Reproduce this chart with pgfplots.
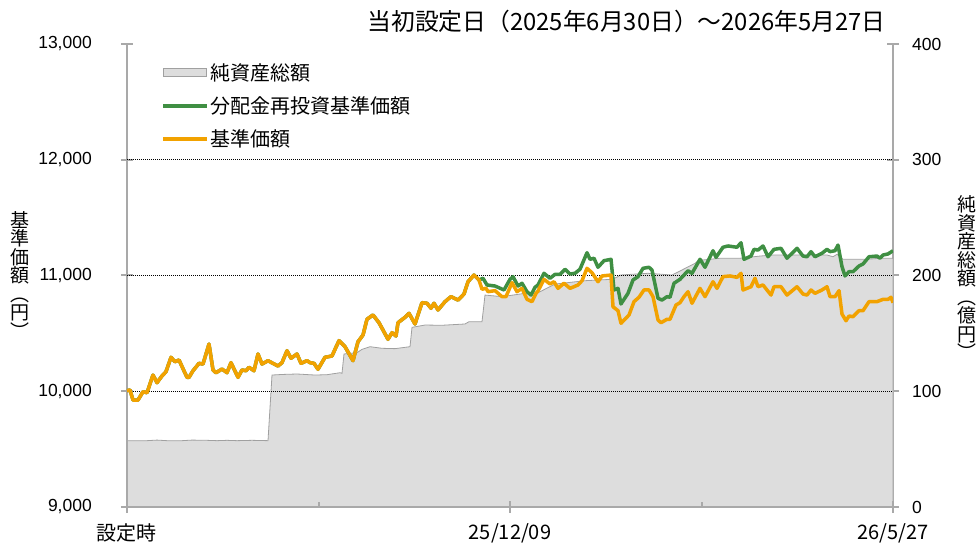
\documentclass[border=0pt]{standalone}
\usepackage{fontspec}
\setmainfont{Liberation Sans}
\newfontfamily\jp{Noto Sans CJK JP}
\usepackage{pgfplots}
\pgfplotsset{compat=1.18}
\definecolor{axgray}{HTML}{A9A9A9}
\definecolor{areafill}{HTML}{DDDDDD}
\definecolor{areaedge}{HTML}{A0A0A0}
\definecolor{orangeline}{HTML}{F2A200}
\definecolor{greenline}{HTML}{3F8F43}
\begin{document}
\begin{tikzpicture}
\path[use as bounding box] (-127pt,-38pt) rectangle (849pt,507pt);
\pgfplotsset{
  common/.style={
    scale only axis, width=766pt, height=463pt, at={(0pt,0pt)}, anchor=south west,
    xmin=0, xmax=766,
    axis line style={-, draw=axgray, line width=2.6pt},
    x axis line style={-}, y axis line style={-},
    tick style={draw=axgray, line width=2pt},
    major tick length=12pt, tick align=center,
    tick label style={font=\fontsize{17.5}{20}\selectfont},
  }
}
% ---- net assets (right axis)
\begin{axis}[common, ymin=0, ymax=400, axis x line=none, axis y line*=right,
  ytick={0,100,200,300,400},
  yticklabel style={anchor=west, inner sep=0pt, xshift=13pt},
  /pgf/number format/assume math mode=true]
\addplot[fill=areafill, draw=areaedge, line width=0.8pt] coordinates {
(0,57.3) (20,57.3) (30,57.8) (40,57.3) (55,57.3) (65,57.8) (80,57.6) (90,57.3)
(100,57.6) (110,57.3) (125,57.6) (141,57.3) (145,114.0) (155,114.5) (170,114.9)
(188,114.0) (200,114.3) (213,116.0) (215,115.5) (217,132.2) (230,133.3) (235,136.2)
(243,138.5) (255,137.1) (268,136.8) (283,138.5) (285,155.2) (298,157.2) (315,157.0)
(338,158.1) (342,160.1) (355,160.1) (358,183.1) (375,181.7) (398,184.6) (411,185.1)
(428,192.6) (458,195.5) (485,196.7) (491,199.0) (493,200.4) (521,201.9) (545,200.4)
(568,210.5) (573,214.0) (576,213.4) (593,214.9) (613,214.9) (633,216.8) (646,217.7)
(700,217.7) (706,216.2) (710,218.3) (716,214.0) (740,214.0) (753,214.9) (766,214.9)
} \closedcycle;
\end{axis}
% ---- prices (left axis)
\begin{axis}[common, ymin=9000, ymax=13000, axis x line*=bottom, axis y line*=left,
  ytick={9000,10000,11000,12000,13000},
  scaled y ticks=false,
  /pgf/number format/1000 sep={,},
  /pgf/number format/assume math mode=true,
  yticklabel style={anchor=east, inner sep=0pt, xshift=-29pt},
  xtick={0,383,766}, xticklabels={設定時,25/12/09,26/5/27},
  xticklabel style={font=\jp\fontsize{20}{24}\selectfont, anchor=north, inner sep=0pt, yshift=-10pt},
  extra x ticks={191.5,574.5}, extra x tick labels={},
  extra x tick style={tick align=inside, major tick length=5pt},
  extra y ticks={10000,11000,12000}, extra y tick labels={},
  extra y tick style={grid=major, major tick length=0pt},
  grid style={black, line width=0.7pt, dash pattern=on 1pt off 1pt},
  legend style={draw=none, fill=none, at={(axis description cs:0.045,0.962)}, anchor=north west,
    font=\jp\fontsize{20}{24}\selectfont, row sep=12pt, inner sep=0pt, nodes={inner sep=1.5pt}},
  legend cell align=left,
  legend image code/.code={\draw[#1] (0pt,0pt) -- (44pt,0pt);},
  ]
\addlegendimage{legend image code/.code={\draw[fill=areafill, draw=areaedge, line width=0.8pt] (0pt,-4pt) rectangle (43pt,4pt);}}
\addlegendentry{純資産総額}
\addplot[greenline, line width=3.5pt, line join=round] coordinates {
(0,10005) (3,10011) (6,9924) (11,9924) (16,9996) (20,9987) (26,10140) (30,10074)
(35,10132) (39,10169) (44,10293) (48,10255) (52,10270) (60,10120) (62,10120) (66,10177)
(72,10241) (76,10235) (82,10408) (86,10184) (89,10160) (95,10192) (100,10160) (104,10247)
(111,10120) (115,10184) (119,10177) (122,10207) (127,10177) (131,10322) (135,10235) (141,10264)
(146,10241) (151,10218) (155,10247) (160,10350) (164,10285) (170,10322) (174,10241) (180,10264)
(183,10247) (187,10241) (191,10190) (198,10293) (205,10305) (212,10437) (218,10385) (226,10264)
(231,10428) (236,10486) (240,10622) (246,10659) (252,10592) (261,10449) (265,10506) (269,10477)
(271,10592) (278,10639) (282,10673) (288,10581) (295,10765) (300,10760) (304,10717) (307,10760)
(311,10702) (318,10774) (324,10817) (331,10788) (337,10840) (341,10946) (347,11004) (352,10961)
(356,10976) (360,10918) (368,10909) (377,10875) (383,10967) (386,10990) (391,10909) (395,10933)
(400,10860) (404,10831) (408,10898) (411,10918) (417,11019) (423,10976) (428,11010) (433,11010)
(438,11054) (443,11013) (448,11019) (453,11054) (460,11197) (463,11140) (467,11149) (471,11071)
(477,11128) (484,11140) (487,10875) (491,10889) (494,10754) (501,10846) (506,10961) (511,10990)
(516,11062) (522,11071) (525,11047) (531,10803) (535,10788) (540,10817) (543,10812) (547,10933)
(553,10967) (561,11041) (565,11019) (573,11140) (578,11071) (586,11214) (589,11157) (596,11244)
(601,11255) (610,11244) (614,11283) (617,11140) (624,11168) (627,11226) (631,11220) (636,11255)
(641,11162) (647,11226) (654,11235) (660,11149) (670,11235) (676,11168) (680,11162) (684,11206)
(688,11162) (695,11192) (700,11226) (703,11206) (708,11214) (711,11263) (715,11076) (718,10996)
(722,11033) (726,11033) (732,11082) (736,11099) (742,11162) (750,11168) (753,11149) (756,11177)
(761,11186) (766,11214)
};
\addlegendentry{分配金再投資基準価額}
\addplot[orangeline, line width=3.5pt, line join=round] coordinates {
(0,10005) (3,10011) (6,9924) (11,9924) (16,9996) (20,9987) (26,10140) (30,10074)
(35,10132) (39,10169) (44,10293) (48,10255) (52,10270) (60,10120) (62,10120) (66,10177)
(72,10241) (76,10235) (82,10408) (86,10184) (89,10160) (95,10192) (100,10160) (104,10247)
(111,10120) (115,10184) (119,10177) (122,10207) (127,10177) (131,10322) (135,10235) (141,10264)
(146,10241) (151,10218) (155,10247) (160,10350) (164,10285) (170,10322) (174,10241) (180,10264)
(183,10247) (187,10241) (191,10190) (198,10293) (205,10305) (212,10437) (218,10385) (226,10264)
(231,10428) (236,10486) (240,10622) (246,10659) (252,10592) (261,10449) (265,10506) (269,10477)
(271,10592) (278,10639) (282,10673) (288,10581) (295,10765) (300,10760) (304,10717) (307,10760)
(311,10702) (318,10774) (324,10817) (331,10788) (337,10840) (341,10946) (347,11004) (352,10961)
(355,10881) (359,10890) (361,10860) (368,10869) (375,10817) (379,10817) (383,10898) (385,10938)
(390,10860) (395,10889) (400,10794) (405,10774) (409,10846) (411,10866) (417,10967) (423,10927)
(427,10946) (431,10889) (437,10933) (443,10889) (451,10918) (455,10955) (460,11062) (465,11024)
(471,10946) (475,10996) (484,11004) (486,10730) (491,10696) (494,10587) (502,10659) (507,10774)
(512,10812) (517,10875) (522,10875) (526,10817) (531,10616) (534,10592) (540,10622) (543,10622)
(549,10745) (553,10765) (557,10817) (561,10860) (565,10760) (573,10889) (578,10817) (586,10946)
(590,10889) (596,10990) (603,10996) (610,10984) (614,11019) (616,10875) (624,10903) (628,10976)
(631,10903) (636,10918) (644,10831) (647,10903) (654,10903) (660,10831) (670,10903) (676,10840)
(680,10831) (684,10875) (688,10846) (695,10875) (700,10903) (703,10817) (708,10817) (712,10869)
(715,10667) (719,10609) (722,10650) (726,10644) (732,10696) (736,10696) (742,10774) (750,10774)
(756,10794) (761,10794) (764,10812) (766,10765)
};
\addlegendentry{基準価額}
\end{axis}
\node[font=\jp\fontsize{23.8}{26}\selectfont, anchor=center] at (499.5pt,486pt) {当初設定日（2025年6月30日）～2026年5月27日};
\node[font=\jp\fontsize{19}{18.5}\selectfont, align=center, inner sep=0pt] at (-107pt,232pt) {基\\準\\価\\額\\︵\\円\\︶};
\node[font=\jp\fontsize{19}{18.5}\selectfont, align=center, inner sep=0pt] at (840pt,229pt) {純\\資\\産\\総\\額\\︵\\億\\円\\︶};
\end{tikzpicture}
\end{document}
